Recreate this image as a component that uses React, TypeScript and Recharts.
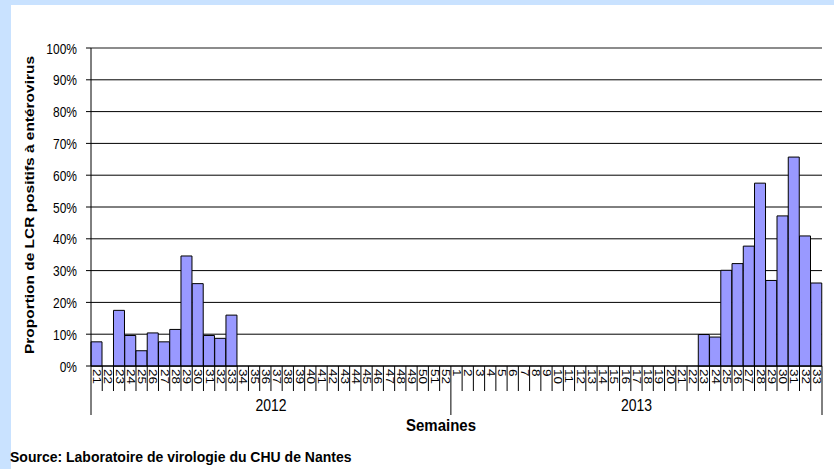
import React from "react";
import {
  BarChart,
  Bar,
  XAxis,
  YAxis,
  CartesianGrid,
  ReferenceLine,
} from "recharts";

// source picture is stretched vertically, text gets the same stretch
const SY = 1.29;
const FONT = "'Liberation Sans', Arial, sans-serif";

const years = ["2012", "2013"];
const weeks2012 = [
  "21", "22", "23", "24", "25", "26", "27", "28", "29", "30", "31", "32",
  "33", "34", "35", "36", "37", "38", "39", "40", "41", "42", "43", "44",
  "45", "46", "47", "48", "49", "50", "51", "52",
];
const values2012 = [
  7.6, 0, 17.5, 9.6, 4.8, 10.4, 7.6, 11.5, 34.6, 25.9, 9.6, 8.7,
  16, 0, 0, 0, 0, 0, 0, 0, 0, 0, 0, 0,
  0, 0, 0, 0, 0, 0, 0, 0,
];
const weeks2013 = [
  "1", "2", "3", "4", "5", "6", "7", "8", "9", "10", "11", "12",
  "13", "14", "15", "16", "17", "18", "19", "20", "21", "22", "23", "24",
  "25", "26", "27", "28", "29", "30", "31", "32", "33",
];
const values2013 = [
  0, 0, 0, 0, 0, 0, 0, 0, 0, 0, 0, 0,
  0, 0, 0, 0, 0, 0, 0, 0, 0, 0, 9.9, 9.1,
  30.1, 32.2, 37.7, 57.5, 26.9, 47.2, 65.7, 40.9, 26.1,
];
const yTicks = [0, 10, 20, 30, 40, 50, 60, 70, 80, 90, 100];

const data = [
  ...weeks2012.map((w, i) => ({ key: `2012-${w}`, week: w, year: years[0], value: values2012[i] })),
  ...weeks2013.map((w, i) => ({ key: `2013-${w}`, week: w, year: years[1], value: values2013[i] })),
];

const W = 834;
const H = 469;
const margin = { top: 48, right: 12, left: 0, bottom: 51 };
const Y_AXIS_W = 91;
const plotW = W - margin.left - margin.right - Y_AXIS_W;
const bw = plotW / data.length;

const YTick = ({ x, y, payload }: any) => (
  <text
    transform={`translate(${x},${y}) scale(1,${SY})`}
    textAnchor="end"
    dominantBaseline="central"
    fontSize={12}
    fontFamily={FONT}
    fill="#000"
  >
    {payload.value}%
  </text>
);

const XTick = ({ x, y, index }: any) => {
  const d = data[index];
  const first = index === 0 || data[index - 1].year !== d.year;
  const last = index === data.length - 1 || data[index + 1].year !== d.year;
  const count = data.filter((e) => e.year === d.year).length;
  return (
    <g>
      {index === 0 && (
        <line x1={x - bw / 2} x2={x - bw / 2} y1={y} y2={y + 49} stroke="#000" />
      )}
      <line x1={x + bw / 2} x2={x + bw / 2} y1={y} y2={y + (last ? 49 : 25)} stroke="#000" />
      <text
        transform={`translate(${x},${y + 3}) scale(1,${SY}) rotate(90)`}
        textAnchor="start"
        dominantBaseline="central"
        fontSize={10.5}
        fontFamily={FONT}
        fill="#000"
      >
        {d.week}
      </text>
      {first && (
        <text
          transform={`translate(${x - bw / 2 + (count * bw) / 2},${y + 45}) scale(1,1.2)`}
          textAnchor="middle"
          fontSize={14}
          fontFamily={FONT}
          fill="#000"
        >
          {d.year}
        </text>
      )}
    </g>
  );
};

const YTitle = () => (
  <text
    transform={`translate(30,205) scale(1,${SY}) rotate(-90)`}
    textAnchor="middle"
    dominantBaseline="central"
    fontSize={12}
    fontWeight="bold"
    fontFamily={FONT}
    fill="#000"
  >
    Proportion de LCR positifs à entérovirus
  </text>
);

const textStyle: React.CSSProperties = {
  position: "absolute",
  fontFamily: FONT,
  fontWeight: "bold",
  whiteSpace: "nowrap",
  lineHeight: "16px",
};

export default function App() {
  return (
    <div
      style={{
        position: "absolute",
        left: 0,
        top: 0,
        width: W,
        height: H,
        background: "#c9e2ff",
        overflow: "hidden",
      }}
    >
      <div
        style={{
          position: "absolute",
          left: 11,
          top: 5,
          right: 0,
          bottom: 0,
          background: "#fff",
        }}
      />
      <div style={{ position: "absolute", left: 0, top: 0 }}>
        <BarChart
          width={W}
          height={H}
          data={data}
          margin={margin}
          barCategoryGap={0}
          barGap={0}
        >
          <CartesianGrid horizontal vertical={false} stroke="#000" />
          <XAxis
            dataKey="key"
            interval={0}
            height={52}
            axisLine={{ stroke: "#000" }}
            tickLine={false}
            tickSize={0}
            tickMargin={0}
            tick={<XTick />}
          />
          <YAxis
            domain={[0, 100]}
            ticks={yTicks}
            interval={0}
            width={Y_AXIS_W}
            axisLine={{ stroke: "#000" }}
            tickLine={{ stroke: "#000" }}
            tickSize={5}
            tickMargin={9}
            tick={<YTick />}
            label={<YTitle />}
          />
          <YAxis
            yAxisId="right"
            orientation="right"
            domain={[0, 100]}
            width={0}
            tick={false}
            tickLine={false}
            axisLine={{ stroke: "#999" }}
          />
          <ReferenceLine y={100} stroke="#999" />
          <Bar
            dataKey="value"
            fill="#9999ff"
            stroke="#000"
            strokeWidth={1}
            isAnimationActive={false}
          />
        </BarChart>
      </div>
      <div
        style={{
          ...textStyle,
          fontSize: 15,
          left: 441,
          top: 417,
          transform: "translateX(-50%) scaleY(1.1)",
        }}
      >
        Semaines
      </div>
      <div
        style={{
          ...textStyle,
          fontSize: 14,
          left: 10,
          top: 449,
          transform: "scaleY(1.05)",
        }}
      >
        Source: Laboratoire de virologie du CHU de Nantes
      </div>
    </div>
  );
}
